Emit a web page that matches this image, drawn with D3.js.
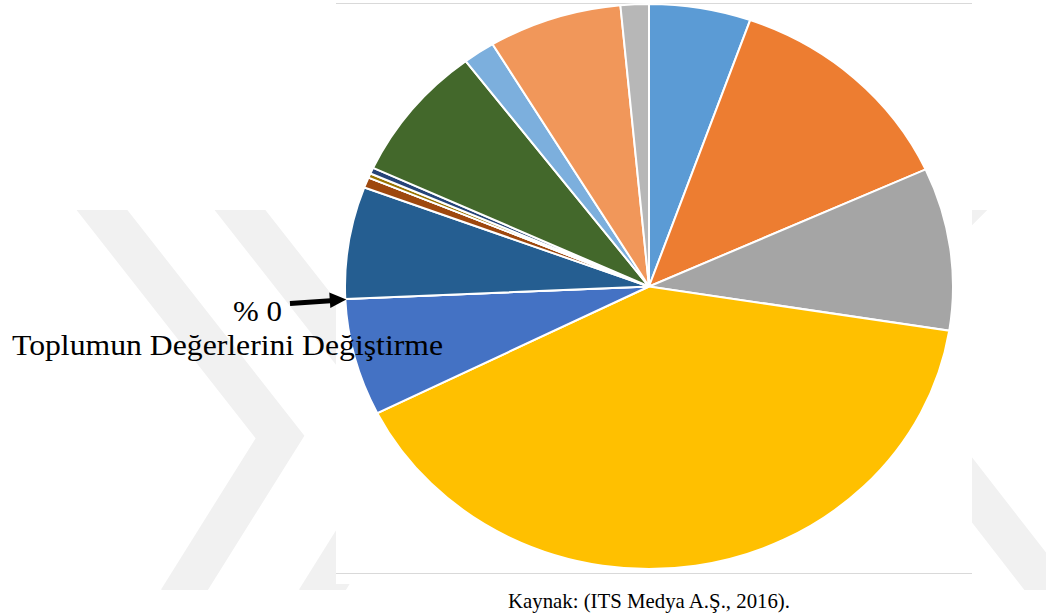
<!DOCTYPE html>
<html>
<head>
<meta charset="utf-8">
<script src="https://cdn.jsdelivr.net/npm/d3@7"></script>
<style>
  html, body { margin: 0; padding: 0; background: #ffffff; }
  svg { display: block; }
</style>
</head>
<body>
<svg id="chart" width="1046" height="616"></svg>
<script>
// Slice shares (percent), in drawing order clockwise from 12 o'clock
const categories = [
  "Kategori 1", "Kategori 2", "Kategori 3", "Kategori 4", "Kategori 5",
  "Toplumun Değerlerini Değiştirme",
  "Kategori 7", "Kategori 8", "Kategori 9", "Kategori 10", "Kategori 11",
  "Kategori 12", "Kategori 13", "Kategori 14", "Kategori 15"
];
const values = [5.4, 12.8, 9.3, 40.1, 6.7, 0, 6.4, 0.6, 0, 0.25, 0.35, 7.8, 1.7, 7.1, 1.5];
const colors = [
  "#5B9BD5", "#ED7D31", "#A5A5A5", "#FFC000", "#4472C4", "#70AD47",
  "#255E91", "#9E480E", "#636363", "#997300", "#264478", "#43682B",
  "#7CAFDD", "#F1975A", "#B7B7B7"
];
const calloutCategory = "Toplumun Değerlerini Değiştirme";
const sourceNote = "Kaynak: (ITS Medya A.Ş., 2016).";

const svg = d3.select("#chart");
const serif = "'Liberation Serif', 'Times New Roman', serif";

// Faint chevron watermark behind the chart
svg.append("defs").append("clipPath").attr("id", "wmClip")
  .append("rect").attr("x", 0).attr("y", 210).attr("width", 1046).attr("height", 380);
const wm = svg.append("g").attr("clip-path", "url(#wmClip)");
const bands = [
  [[80, 182], [280, 437], [178, 600]],
  [[218, 182], [418, 437], [316, 600]],
  [[989, 180], [844, 325], [1073, 620]]
];
const bandLine = d3.line();
wm.selectAll("path").data(bands).join("path")
  .attr("d", bandLine)
  .attr("fill", "none")
  .attr("stroke", "#f1f1f1")
  .attr("stroke-width", 40)
  .attr("stroke-linejoin", "miter")
  .attr("stroke-miterlimit", 10);

// Plot area
const plot = { x: 336, y: 0, w: 636, h: 584 };
svg.append("rect")
  .attr("x", plot.x).attr("y", plot.y)
  .attr("width", plot.w).attr("height", plot.h)
  .attr("fill", "#ffffff");
[3, 573].forEach(y => {
  svg.append("line")
    .attr("x1", plot.x).attr("x2", plot.x + plot.w)
    .attr("y1", y + 0.5).attr("y2", y + 0.5)
    .attr("stroke", "#d9d9d9").attr("stroke-width", 1);
});

// Pie, stretched slightly into an ellipse
const cx = 649, cy = 286.5, rx = 304, ry = 282.5;
const pie = d3.pie().sort(null).value(d => d)(values);
const arc = d3.arc().innerRadius(0).outerRadius(rx);

const pieG = svg.append("g")
  .attr("transform", `translate(${cx},${cy}) scale(1,${ry / rx})`);
pieG.selectAll("path").data(pie).join("path")
  .attr("d", arc)
  .attr("fill", (d, i) => colors[i])
  .attr("stroke", "#ffffff")
  .attr("stroke-width", 2)
  .attr("vector-effect", "non-scaling-stroke");

// Callout for the zero-share slice
const ci = categories.indexOf(calloutCategory);
const theta = pie[ci].startAngle;
const tipX = cx + rx * Math.sin(theta) + 1;
const tipY = cy - ry * Math.cos(theta) + 0.5;

const arrowG = svg.append("g");
arrowG.append("line")
  .attr("x1", 290).attr("y1", tipY + 4)
  .attr("x2", tipX - 12).attr("y2", tipY + 1)
  .attr("stroke", "#000").attr("stroke-width", 5);
arrowG.append("path")
  .attr("d", `M${tipX},${tipY} L${tipX - 17},${tipY - 7} L${tipX - 16},${tipY + 8.5} Z`)
  .attr("fill", "#000");

svg.append("text")
  .attr("x", 233).attr("y", 321)
  .attr("font-family", serif).attr("font-size", 30)
  .attr("fill", "#000")
  .attr("textLength", 49).attr("lengthAdjust", "spacingAndGlyphs")
  .text(`% ${values[ci]}`);

svg.append("text")
  .attr("x", 12).attr("y", 354.5)
  .attr("font-family", serif).attr("font-size", 30)
  .attr("fill", "#000")
  .attr("textLength", 431).attr("lengthAdjust", "spacingAndGlyphs")
  .text(calloutCategory);

// Source line
svg.append("text")
  .attr("x", cx).attr("y", 608)
  .attr("text-anchor", "middle")
  .attr("font-family", serif).attr("font-size", 21)
  .attr("fill", "#000")
  .attr("textLength", 282).attr("lengthAdjust", "spacingAndGlyphs")
  .text(sourceNote);
</script>
</body>
</html>
